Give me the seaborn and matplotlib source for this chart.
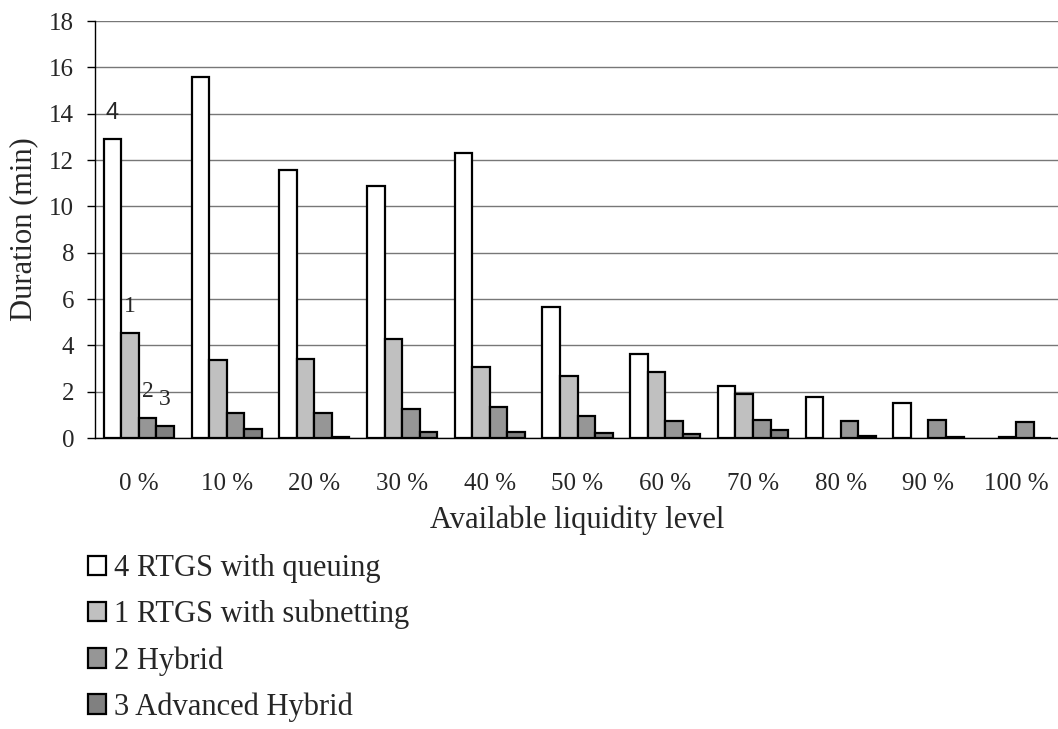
import numpy as np
import pandas as pd
import matplotlib
matplotlib.use("Agg")
import matplotlib.pyplot as plt
import seaborn as sns

levels = ["0 %", "10 %", "20 %", "30 %", "40 %", "50 %", "60 %", "70 %", "80 %", "90 %", "100 %"]
series = ["4 RTGS with queuing", "1 RTGS with subnetting", "2 Hybrid", "3 Advanced Hybrid"]
queuing = [12.9, 15.58, 11.57, 10.89, 12.3, 5.64, 3.63, 2.24, 1.76, 1.50, np.nan]
subnetting = [4.55, 3.37, 3.40, 4.26, 3.05, 2.69, 2.85, 1.90, np.nan, np.nan, 0.03]
hybrid = [0.88, 1.06, 1.06, 1.25, 1.35, 0.96, 0.75, 0.79, 0.73, 0.76, 0.68]
advanced = [0.53, 0.39, 0.06, 0.28, 0.25, 0.22, 0.16, 0.35, 0.08, 0.06, 0.01]
colors = ["#FFFFFF", "#C0C0C0", "#969696", "#808080"]
bar_labels = ["4", "1", "2", "3"]
yticks = list(range(0, 19, 2))

sns.set_style("white")
plt.rcParams["font.family"] = ["Liberation Serif", "DejaVu Serif"]

rows = []
for name, vals in zip(series, [queuing, subnetting, hybrid, advanced]):
    for lev, v in zip(levels, vals):
        if not np.isnan(v):
            rows.append({"level": lev, "series": name, "value": v})
df = pd.DataFrame(rows)

fig = plt.figure(figsize=(10.58, 7.29), dpi=100)
ax = fig.add_axes([95 / 1058, 1 - 438 / 729, 965 / 1058, 417 / 729])

sns.barplot(data=df, x="level", y="value", hue="series", order=levels,
            hue_order=series, palette=colors, edgecolor="black",
            linewidth=1.6, width=0.8, saturation=1, ax=ax, errorbar=None)

ax.set_xlim(-0.5, len(levels) - 0.5)
ax.set_ylim(0, 18)
ax.set_yticks(yticks)
ax.yaxis.grid(True, color="#777777", linewidth=1)
ax.set_axisbelow(True)
for s in ["top", "right"]:
    ax.spines[s].set_visible(False)
for s in ["left", "bottom"]:
    ax.spines[s].set_color("black")
    ax.spines[s].set_linewidth(1)

ax.set_xticks(np.arange(-0.5, len(levels), 1.0), minor=True)
ax.tick_params(axis="x", which="major", length=0, pad=25, labelsize=18)
ax.tick_params(axis="x", which="minor", length=8, width=1, color="black", direction="out")
ax.tick_params(axis="y", length=6, width=1, color="black", direction="out", pad=9, labelsize=18, left=True)

ax.set_xlabel("Available liquidity level", fontsize=22, labelpad=8)
ax.set_ylabel("Duration (min)", fontsize=22, labelpad=8)

for h, container in enumerate(ax.containers):
    bar = container[0]
    fam = ["Liberation Sans"] if h == 0 else ["Liberation Serif"]
    ax.annotate(bar_labels[h], (bar.get_x() + bar.get_width() / 2, bar.get_height()),
                xytext=(0, 19), textcoords="offset points", ha="center", va="center",
                fontsize=17, family=fam)

handles, labels = ax.get_legend_handles_labels()
if ax.get_legend() is not None:
    ax.get_legend().remove()
fig.legend(handles, labels, loc="upper left", bbox_to_anchor=(88 / 1058, 1 - 554 / 729),
           frameon=False, fontsize=22, handlelength=0.6, handleheight=0.6,
           handletextpad=0.25, labelspacing=0.55, borderpad=0, borderaxespad=0)

fig.savefig("out.png", dpi=100)
